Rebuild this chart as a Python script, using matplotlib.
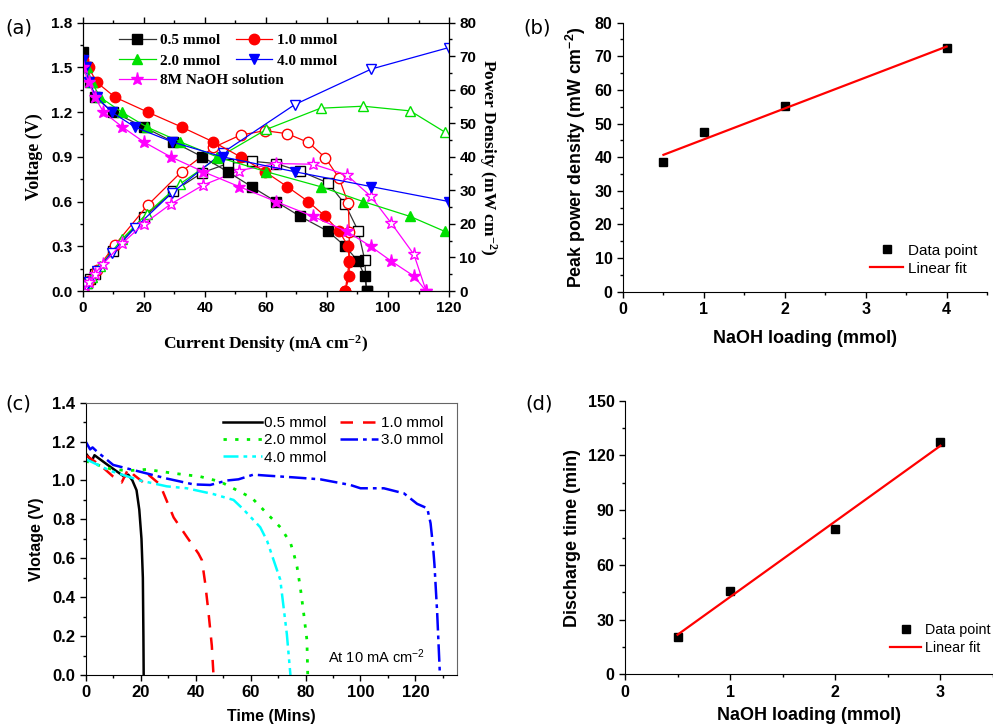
import matplotlib
matplotlib.use("Agg")
import matplotlib.pyplot as plt
from matplotlib.ticker import MultipleLocator

SERIF = "Liberation Serif"
SANS = "Liberation Sans"
plt.rcParams["font.family"] = SANS
plt.rcParams["mathtext.default"] = "regular"

# (a) polarisation curves: current density, voltage, power density
I05 = [0, 1.5, 2.5, 4, 10, 20, 29.7, 39.2, 47.5, 55.3, 63.3, 71.3, 80.4, 86, 90.2, 92.4, 93]
V05 = [1.6, 1.5, 1.4, 1.3, 1.2, 1.1, 1.0, 0.9, 0.8, 0.7, 0.6, 0.5, 0.4, 0.3, 0.2, 0.1, 0.0]
P05 = [0, 2.3, 3.5, 5.2, 12.0, 22.0, 29.7, 35.3, 38.0, 38.7, 38.0, 35.7, 32.2, 25.8, 18.0, 9.2, 0]

I10 = [0, 1.9, 4.6, 10.6, 21.3, 32.4, 42.8, 51.7, 59.7, 67, 73.9, 79.5, 84, 87, 87.3, 87.3, 86]
V10 = [1.55, 1.5, 1.4, 1.3, 1.2, 1.1, 1.0, 0.9, 0.8, 0.7, 0.6, 0.5, 0.4, 0.3, 0.2, 0.1, 0.0]
P10 = [0, 2.9, 6.4, 13.8, 25.6, 35.6, 42.8, 46.5, 47.8, 46.9, 44.3, 39.7, 33.6, 26.1, 17.5, 8.7, 0]

I20 = [0, 1.5, 3, 5.7, 12.8, 21, 32, 44, 60.2, 77.9, 91.9, 107.3, 118.6]
V20 = [1.55, 1.5, 1.4, 1.3, 1.2, 1.1, 1.0, 0.9, 0.8, 0.7, 0.6, 0.5, 0.4]
P20 = [0, 2.3, 4.2, 7.4, 15.4, 23.1, 32.0, 39.6, 48.2, 54.5, 55.1, 53.7, 47.4]

I40 = [0, 1, 1.9, 4.6, 9.5, 17.1, 29.3, 45.8, 69.5, 94.6, 120]
V40 = [1.55, 1.5, 1.4, 1.3, 1.2, 1.1, 1.0, 0.9, 0.8, 0.7, 0.6]
P40 = [0, 1.5, 2.7, 6.0, 11.4, 18.8, 29.3, 41.2, 55.6, 66.2, 72.6]

INA = [0, 2, 4, 6.8, 13, 20, 28.8, 39.5, 51.3, 63.3, 75.5, 86.5, 94.3, 101.1, 108.5, 112.5]
VNA = [1.5, 1.4, 1.3, 1.2, 1.1, 1.0, 0.9, 0.8, 0.7, 0.6, 0.5, 0.4, 0.3, 0.2, 0.1, 0.0]
PNA = [0, 2.8, 5.2, 8.2, 14.3, 20.0, 25.9, 31.6, 35.9, 38.0, 37.8, 34.6, 28.3, 20.2, 10.9, 0]

# (b) peak power vs loading
b_x = [0.5, 1, 2, 4]
b_y = [38.5, 47.6, 55.2, 72.6]
b_fit_x = [0.5, 4]
b_fit_y = [40.7, 72.9]

# (c) discharge curves at 10 mA cm-2
t05 = [0, 2.2, 3.2, 8, 14, 15.5, 17, 18.5, 19.5, 20.3, 20.8, 21.0, 21.1]
v05 = [1.14, 1.1, 1.13, 1.08, 1.02, 1.03, 1.0, 0.95, 0.85, 0.7, 0.5, 0.2, 0.0]
t10 = [0, 5.2, 10, 13.1, 15.5, 17.4, 21, 22.8, 27, 32, 36.8, 41, 42.3, 43.5, 44.7, 45.9, 46.5]
v10 = [1.13, 1.08, 1.02, 0.99, 1.06, 1.03, 0.99, 1.03, 0.98, 0.81, 0.71, 0.625, 0.59, 0.47, 0.32, 0.15, 0.0]
t20 = [0, 8.9, 15, 22.2, 32, 41.7, 49, 55, 60.5, 66, 70.8, 74.5, 75.7, 76.9, 78.1, 79.3, 80.5, 80.8]
v20 = [1.1, 1.06, 1.05, 1.057, 1.037, 1.02, 0.994, 0.95, 0.91, 0.83, 0.76, 0.68, 0.625, 0.557, 0.45, 0.32, 0.18, 0.0]
t30 = [0, 1.6, 2.5, 4, 10, 19.8, 29.5, 39.2, 45.3, 51.4, 55.6, 61, 66, 75.7, 85.4, 96.3, 100,
       108.5, 115.8, 120.6, 124.3, 125.5, 126.4, 126.9, 127.9, 128.9]
v30 = [1.2, 1.16, 1.17, 1.15, 1.08, 1.045, 1.01, 0.98, 0.977, 1.0, 1.006, 1.03, 1.025, 1.016, 1.006,
       0.977, 0.96, 0.96, 0.934, 0.88, 0.857, 0.78, 0.66, 0.57, 0.32, 0.0]
t40 = [0, 8.9, 19.8, 29.5, 36.8, 46.5, 53.8, 57.5, 63.5, 66, 68.4, 70.8, 72, 73.2, 74.5]
v40 = [1.11, 1.05, 1.0, 0.97, 0.96, 0.93, 0.9, 0.85, 0.76, 0.69, 0.59, 0.49, 0.35, 0.21, 0.0]

# (d) discharge time vs loading
d_x = [0.5, 1, 2, 3]
d_y = [20.6, 45.9, 79.5, 127.2]
d_fit_x = [0.5, 3]
d_fit_y = [21.7, 125.3]

fig = plt.figure(figsize=(9.93, 7.27), dpi=100)
axa = fig.add_axes([0.0833, 0.5997, 0.3689, 0.3691])
axb = fig.add_axes([0.6274, 0.5988, 0.3666, 0.3700])
axc = fig.add_axes([0.0863, 0.0715, 0.3736, 0.3746])
axd = fig.add_axes([0.6294, 0.0725, 0.3706, 0.3763])


def style_ticks(ax, size):
    ax.tick_params(which="both", direction="out", width=1)
    ax.tick_params(which="major", length=4)
    ax.tick_params(which="minor", length=2.5)
    for lab in ax.get_xticklabels() + ax.get_yticklabels():
        lab.set_fontfamily(SANS)
        lab.set_fontweight("bold")
        lab.set_fontsize(size)


# ---- (a)
series = [
    (I05, V05, P05, "k", "s", 6.5, "0.5 mmol"),
    (I10, V10, P10, "#ff0000", "o", 7.5, "1.0 mmol"),
    (I20, V20, P20, "#00e000", "^", 7.5, "2.0 mmol"),
    (I40, V40, P40, "#0000ff", "v", 7.5, "4.0 mmol"),
    (INA, VNA, PNA, "#ff00ff", "*", 9.5, "8M NaOH solution"),
]
ax2 = axa.twinx()
handles = []
for cur, volt, pw, col, mk, ms, lab in series:
    lc = "#333333" if col == "k" else col
    h, = axa.plot(cur, volt, "-", color=lc, lw=0.9, marker=mk, ms=ms,
                  mfc=col, mec=col, label=lab)
    ax2.plot(cur, pw, "-", color=lc, lw=0.9, marker=mk, ms=ms,
             mfc="white", mec=col)
    handles.append(h)
axa.set_xlim(0, 120)
axa.set_ylim(0, 1.8)
ax2.set_ylim(0, 80)
axa.xaxis.set_major_locator(MultipleLocator(20))
axa.xaxis.set_minor_locator(MultipleLocator(10))
axa.yaxis.set_major_locator(MultipleLocator(0.3))
axa.yaxis.set_minor_locator(MultipleLocator(0.15))
ax2.yaxis.set_major_locator(MultipleLocator(10))
ax2.yaxis.set_minor_locator(MultipleLocator(5))
axa.yaxis.set_major_formatter(plt.FormatStrFormatter("%.1f"))
axa.tick_params(top=True, which="both")
style_ticks(axa, 11)
style_ticks(ax2, 11)
axa.set_xlabel("Current Density (mA cm$^{-2}$)", fontfamily=SERIF,
               fontweight="bold", fontsize=12.5, labelpad=13)
axa.set_ylabel("Voltage (V)", fontfamily=SERIF, fontweight="bold", fontsize=13, labelpad=6)
ax2.set_ylabel("Power Density (mW cm$^{-2}$)", fontfamily=SERIF, fontweight="bold",
               fontsize=12.5, rotation=270, labelpad=16)
leg_font = dict(family=SERIF, weight="bold", size=11)
leg1 = axa.legend(handles=[handles[0], handles[2], handles[1], handles[3]],
                  loc="upper left", bbox_to_anchor=(0.099, 0.96), ncol=2,
                  frameon=False, handlelength=2.4, handletextpad=0.3, columnspacing=1.0,
                  labelspacing=0.45, borderaxespad=0, borderpad=0, prop=leg_font)
axa.add_artist(leg1)
axa.legend(handles=[handles[4]], loc="upper left", bbox_to_anchor=(0.099, 0.81),
           frameon=False, handlelength=2.4, handletextpad=0.3,
           borderaxespad=0, borderpad=0, prop=leg_font)
ax2.set_zorder(axa.get_zorder() - 1)
axa.patch.set_visible(False)

# ---- (b)
axb.plot(b_x, b_y, "s", color="k", ms=6, ls="none", label="Data point")
axb.plot(b_fit_x, b_fit_y, "-", color="#ff0000", lw=1.6, label="Linear fit")
axb.set_xlim(0, 4.5)
axb.set_ylim(0, 80)
axb.xaxis.set_major_locator(MultipleLocator(1))
axb.xaxis.set_minor_locator(MultipleLocator(0.5))
axb.yaxis.set_major_locator(MultipleLocator(10))
axb.yaxis.set_minor_locator(MultipleLocator(5))
for s in ("top", "right"):
    axb.spines[s].set_visible(False)
style_ticks(axb, 11.5)
axb.set_xlabel("NaOH loading (mmol)", fontweight="bold", fontsize=13, labelpad=9)
axb.set_ylabel("Peak power density (mW cm$^{-2}$)", fontweight="bold", fontsize=12.8, labelpad=5)
axb.legend(loc="lower left", bbox_to_anchor=(0.678, 0.06), frameon=False, fontsize=11,
           handlelength=2.2, handletextpad=0.3, labelspacing=0.25, borderpad=0,
           borderaxespad=0)

# ---- (c)
axc.plot(t05, v05, color="k", lw=1.8, ls="-", label="0.5 mmol")
axc.plot(t10, v10, color="#ff0000", lw=1.8, ls=(0, (5, 4)), label="1.0 mmol")
axc.plot(t20, v20, color="#00ee00", lw=2.0, ls=(0, (1.2, 3)), label="2.0 mmol")
axc.plot(t30, v30, color="#0000ff", lw=1.8, ls=(0, (7, 2, 1.5, 2)), label="3.0 mmol")
axc.plot(t40, v40, color="#00ffff", lw=1.8, ls=(0, (6, 2, 1.5, 2, 1.5, 2)), label="4.0 mmol")
axc.set_xlim(0, 135)
axc.set_ylim(0, 1.4)
axc.xaxis.set_major_locator(MultipleLocator(20))
axc.xaxis.set_minor_locator(MultipleLocator(10))
axc.yaxis.set_major_locator(MultipleLocator(0.2))
axc.yaxis.set_minor_locator(MultipleLocator(0.1))
axc.yaxis.set_major_formatter(plt.FormatStrFormatter("%.1f"))
for s in ("top", "right"):
    axc.spines[s].set_color("#666666")
style_ticks(axc, 12)
axc.set_xlabel("Time (Mins)", fontweight="bold", fontsize=11.5, labelpad=6)
axc.set_ylabel("Vlotage (V)", fontweight="bold", fontsize=11.5, labelpad=6)
hc = axc.get_lines()
axc.legend(handles=[hc[0], hc[2], hc[4], hc[1], hc[3]], loc="upper right",
           bbox_to_anchor=(1.0, 1.0), ncol=2, frameon=False, fontsize=11,
           handlelength=2.5, handletextpad=0.15, columnspacing=0.9, labelspacing=0.2)
axc.text(0.915, 0.066, "At 10 mA cm$^{-2}$", transform=axc.transAxes, ha="right",
         va="center", fontsize=10.5)

# ---- (d)
axd.plot(d_x, d_y, "s", color="k", ms=6, ls="none", label="Data point")
axd.plot(d_fit_x, d_fit_y, "-", color="#ff0000", lw=1.6, label="Linear fit")
axd.set_xlim(0, 3.5)
axd.set_ylim(0, 150)
axd.xaxis.set_major_locator(MultipleLocator(1))
axd.xaxis.set_minor_locator(MultipleLocator(0.5))
axd.yaxis.set_major_locator(MultipleLocator(30))
axd.yaxis.set_minor_locator(MultipleLocator(15))
for s in ("top", "right"):
    axd.spines[s].set_visible(False)
style_ticks(axd, 11.5)
axd.set_xlabel("NaOH loading (mmol)", fontweight="bold", fontsize=13, labelpad=5)
axd.set_ylabel("Discharge time (min)", fontweight="bold", fontsize=13, labelpad=5)
axd.legend(loc="lower left", bbox_to_anchor=(0.72, 0.07), frameon=False, fontsize=10.3,
           handlelength=2.2, handletextpad=0.25, labelspacing=0.3, borderpad=0,
           borderaxespad=0)

for lab, x, y in [("(a)", 0.005, 0.975), ("(b)", 0.527, 0.975),
                  ("(c)", 0.005, 0.458), ("(d)", 0.529, 0.458)]:
    fig.text(x, y, lab, fontsize=14, va="top", ha="left", fontfamily="DejaVu Sans")

fig.savefig("out.png", dpi=100)
